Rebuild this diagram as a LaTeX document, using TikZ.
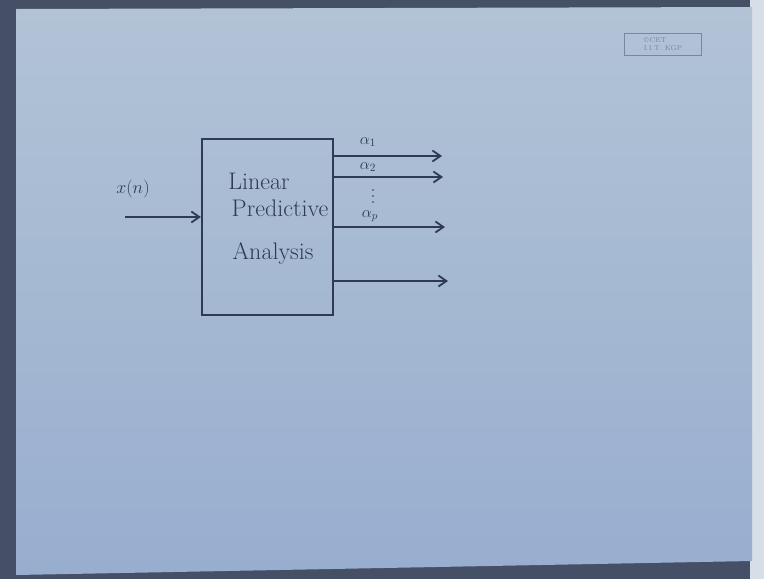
\RequirePackage{fix-cm}
\documentclass[tikz,border=0pt]{standalone}
\usetikzlibrary{arrows.meta,calc}
\definecolor{inkc}{HTML}{2F3B55}
\definecolor{paperTop}{HTML}{B2C3D6}
\definecolor{paperBot}{HTML}{98AECF}
\definecolor{edgec}{HTML}{454F66}
\definecolor{rightc}{HTML}{D6DEE8}
\definecolor{crc}{HTML}{76879E}
\begin{document}
\begin{tikzpicture}[x=1pt,y=-1pt,
  ink/.style={draw=inkc, line width=2.2pt},
  arr/.style={ink, -{Straight Barb[length=8pt,width=11pt,line width=1.8pt]}},
  lbl/.style={text=inkc, inner sep=0pt},
  big/.style={lbl, font=\fontsize{24}{26}\selectfont},
  mid/.style={lbl, font=\fontsize{18}{20}\selectfont},
  sml/.style={lbl, font=\fontsize{16}{18}\selectfont}]
\useasboundingbox (0,0) rectangle (764,579);
\fill[edgec] (0,0) rectangle (764,579);
\fill[rightc] (750,0) rectangle (764,579);
\shade[top color=paperTop, bottom color=paperBot] (16,9) -- (752,7) -- (752,561) -- (16,575) -- cycle;
% box
\node[ink, minimum width=131pt, minimum height=176pt, inner sep=0pt] (box) at (267.5,227) {};
\node[big] (t1) at (259,181) {Linear};
\node[big] (t2) at (280,208) {Predictive};
\node[big] (t3) at (273,253) {Analysis};
% input
\coordinate (in) at (125,217);
\node[mid] (xn) at (133,189) {$x(n)$};
\draw[arr] (in) -- (box.west |- in);
% outputs
\coordinate (o1) at (442,156);
\coordinate (o2) at (443,177);
\coordinate (o3) at (445,227);
\coordinate (o4) at (448,281);
\draw[arr] (box.east |- o1) -- (o1);
\draw[arr] (box.east |- o2) -- (o2);
\draw[arr] (box.east |- o3) -- (o3);
\draw[arr] (box.east |- o4) -- (o4);
\node[sml] (a1) at (368,142) {$\alpha_1$};
\node[sml] (a2) at (368,167) {$\alpha_2$};
\node[sml] (ap) at (370,216) {$\alpha_p$};
\foreach \yy in {190,196,202} \fill[inkc] (373,\yy) circle (0.9pt);
% copyright stamp
\node[draw=crc, line width=0.8pt, text=crc, align=left, inner sep=2pt, minimum width=77pt, minimum height=22pt,
  font=\fontsize{7}{7.5}\selectfont] (cr) at (663,44) {\copyright\,CET\\I.I.T. KGP};
\end{tikzpicture}
\end{document}
